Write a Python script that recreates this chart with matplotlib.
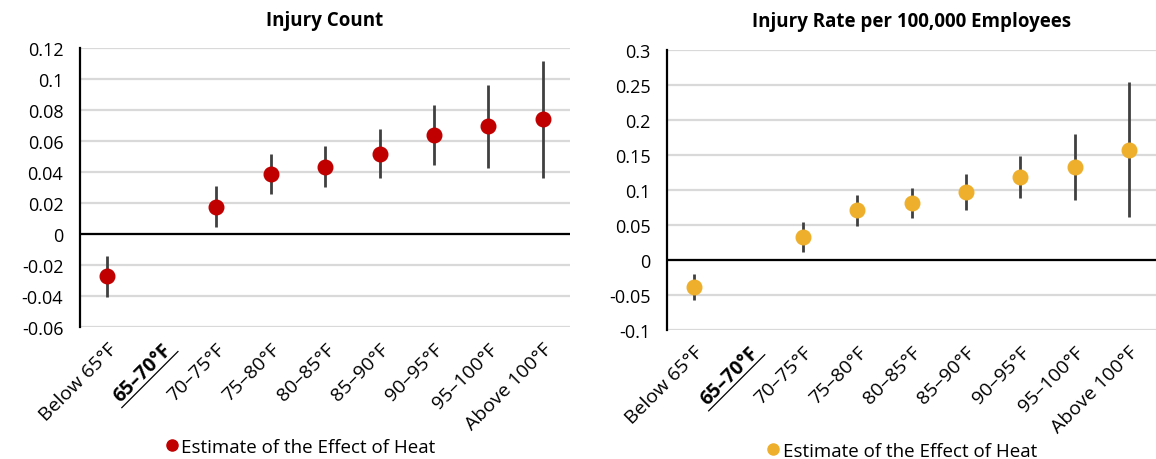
import numpy as np
import matplotlib
matplotlib.use("Agg")
import matplotlib.pyplot as plt
from matplotlib.lines import Line2D
from matplotlib.transforms import IdentityTransform

plt.rcParams['font.family'] = ['Open Sans', 'DejaVu Sans']

categories = ["Below 65°F", "65–70°F", "70–75°F", "75–80°F", "80–85°F",
              "85–90°F", "90–95°F", "95–100°F", "Above 100°F"]
reference = "65–70°F"  # omitted bin, no estimate

count_est = [-0.0274, np.nan, 0.0175, 0.0389, 0.0436, 0.0518, 0.0642, 0.0695, 0.0740]
count_low = [-0.0404, np.nan, 0.0043, 0.0261, 0.0304, 0.0361, 0.0445, 0.0424, 0.0359]
count_high = [-0.0139, np.nan, 0.0310, 0.0518, 0.0567, 0.0676, 0.0836, 0.0965, 0.1120]
count_ticks = [-0.06, -0.04, -0.02, 0, 0.02, 0.04, 0.06, 0.08, 0.1, 0.12]

rate_est = [-0.038, np.nan, 0.0329, 0.0714, 0.0819, 0.0971, 0.119, 0.1333, 0.158]
rate_low = [-0.057, np.nan, 0.011, 0.049, 0.060, 0.0714, 0.0886, 0.0862, 0.0619]
rate_high = [-0.0195, np.nan, 0.0552, 0.0929, 0.1029, 0.1224, 0.149, 0.1795, 0.2538]
rate_ticks = [-0.1, -0.05, 0, 0.05, 0.1, 0.15, 0.2, 0.25, 0.3]

legend_label = "Estimate of the Effect of Heat"


def draw_panel(ax, title, est, low, high, ticks, color, legend_x):
    x = np.arange(len(categories))
    est = np.array(est)
    ok = ~np.isnan(est)
    ax.vlines(x[ok], np.array(low)[ok], np.array(high)[ok],
              color='#404040', lw=2.0, zorder=3)
    ax.plot(x[ok], est[ok], 'o', color=color, markersize=10.5, zorder=4)

    ax.set_xlim(-0.5, len(categories) - 0.5)
    ax.set_ylim(ticks[0], ticks[-1])
    ax.set_yticks(ticks)
    ax.set_yticklabels([f"{t:g}" for t in ticks])
    ax.set_xticks(x)
    ax.set_xticklabels(categories, rotation=45, ha='right', va='top',
                       rotation_mode='anchor')
    for lbl in ax.get_xticklabels():
        if lbl.get_text() == reference:
            lbl.set_fontweight('bold')
    ax.tick_params(length=0, colors='black')
    ax.tick_params(axis='y', pad=12, labelsize=13)
    ax.tick_params(axis='x', pad=9, labelsize=14)

    ax.yaxis.grid(True, color='#D9D9D9', lw=1.6)
    ax.set_axisbelow(True)
    ax.axhline(0, color='black', lw=1.6, zorder=2)
    for side in ['top', 'right', 'bottom']:
        ax.spines[side].set_visible(False)
    ax.spines['left'].set_linewidth(1.6)
    ax.spines['left'].set_zorder(5)

    ax.set_title(title, fontweight='bold', fontsize=13.5, pad=17)

    handle = Line2D([], [], marker='o', ls='', color=color, markersize=8,
                    label=legend_label)
    ax.legend(handles=[handle], loc='center', bbox_to_anchor=(legend_x, -0.43),
              frameon=False, fontsize=13.5, handletextpad=0.1, handlelength=0.8,
              borderpad=0)


fig = plt.figure(figsize=(11.56, 4.6), dpi=100)
ax1 = fig.add_axes([0.0692, 0.287, 0.424, 0.606])
ax2 = fig.add_axes([0.577, 0.280, 0.423, 0.609])

draw_panel(ax1, "Injury Count", count_est, count_low, count_high,
           count_ticks, '#C00000', 0.449)
draw_panel(ax2, "Injury Rate per 100,000 Employees", rate_est, rate_low,
           rate_high, rate_ticks, '#EEAF2C', 0.479)

# underline the omitted bin label along its rotated baseline
fig.canvas.draw()
renderer = fig.canvas.get_renderer()
for ax in (ax1, ax2):
    for lbl in ax.get_xticklabels():
        if lbl.get_text() != reference:
            continue
        lbl.set_rotation(0)
        bb0 = lbl.get_window_extent(renderer)
        lbl.set_rotation(45)
        bb = lbl.get_window_extent(renderer)
        w, h = bb0.width, bb0.height
        s = np.sqrt(0.5)
        x0, y0 = bb.x0 + h * s, bb.y0
        ext = 3
        xs = [x0 - ext * s, x0 + (w + ext) * s]
        ys = [y0 - ext * s, y0 + (w + ext) * s]
        fig.add_artist(Line2D(xs, ys, color='black', lw=0.9,
                              transform=IdentityTransform()))

fig.savefig("out.png", dpi=100)
